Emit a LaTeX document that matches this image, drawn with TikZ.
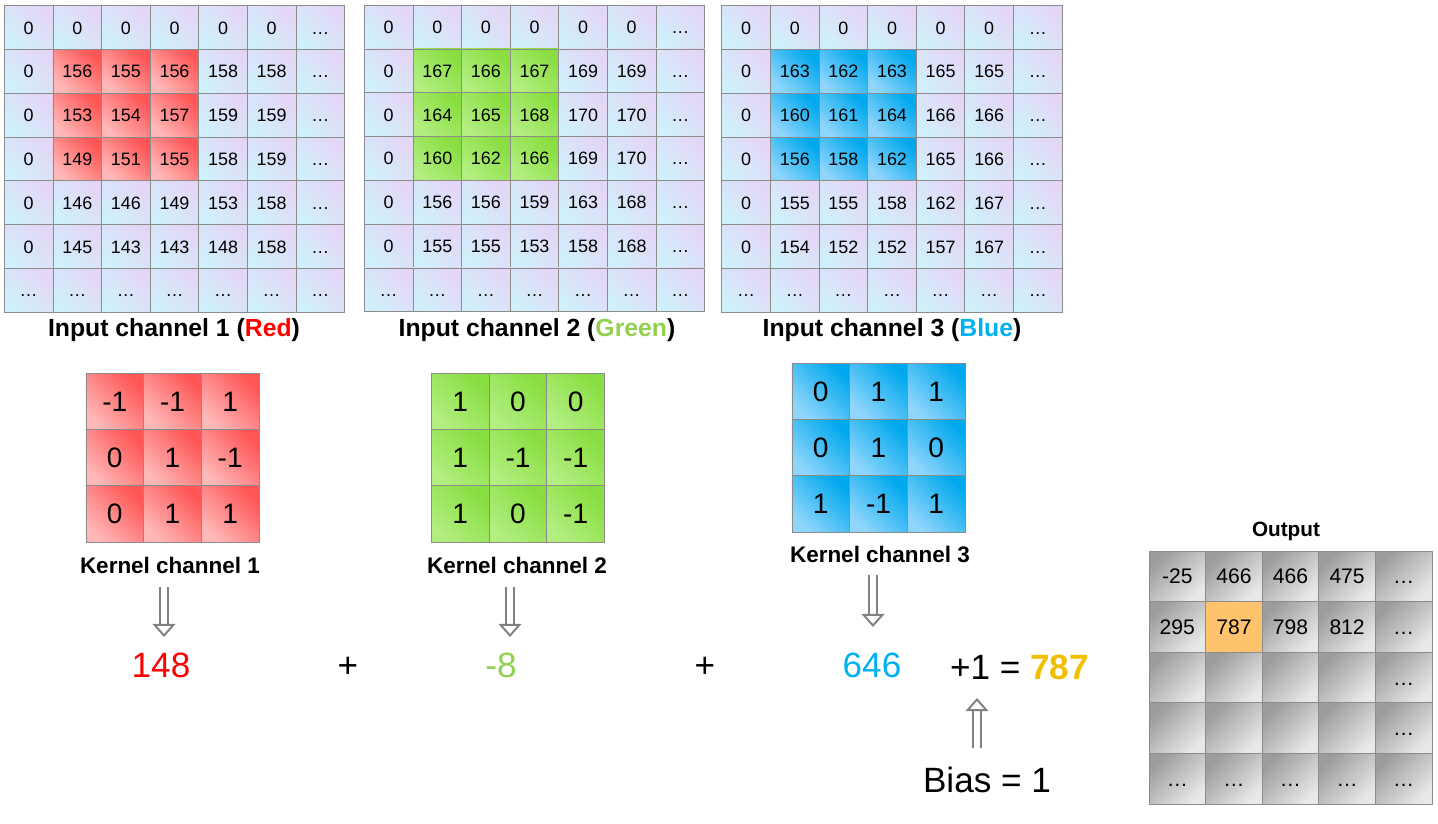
\documentclass[tikz,border=0pt]{standalone}
\usepackage{fontspec}
\setmainfont{Liberation Sans}
\usetikzlibrary{matrix,calc,arrows.meta}

\definecolor{celltop}{HTML}{E4D6F6}
\definecolor{cellbot}{HTML}{D0F0FB}
\definecolor{gridline}{HTML}{8C8C8C}
\definecolor{reddark}{HTML}{FF5555}
\definecolor{redlight}{HTML}{FFB8B8}
\definecolor{grndark}{HTML}{88DE40}
\definecolor{grnlight}{HTML}{B2EE80}
\definecolor{bludark}{HTML}{00A8EE}
\definecolor{blulight}{HTML}{90D6FC}
\definecolor{graydark}{HTML}{9C9C9C}
\definecolor{graylight}{HTML}{E8E8E8}
\definecolor{hitcol}{HTML}{FFC36E}
\definecolor{redtxt}{HTML}{FF0000}
\definecolor{grntxt}{HTML}{92D050}
\definecolor{blutxt}{HTML}{00B0F0}
\definecolor{goldtxt}{HTML}{F0C000}
\definecolor{arrowgray}{HTML}{808080}

\tikzset{
  grid/.style={matrix of nodes, nodes in empty cells, inner sep=0pt,
    column sep=-0.5pt, row sep=-0.5pt},
  cellbase/.style={draw=gridline, line width=0.5pt, inner sep=0pt, anchor=center, text depth=0pt},
  incell/.style={cellbase, minimum width=48.6*0.02cm, minimum height=43.8*0.02cm,
    text height=7.4pt, top color=celltop, bottom color=cellbot, shading angle=-45,
    font=\fontsize{10.2pt}{12pt}\selectfont},
  rcell/.style={top color=reddark, bottom color=redlight, shading angle=-45},
  gcell/.style={top color=grndark, bottom color=grnlight, shading angle=-45},
  bcell/.style={top color=bludark, bottom color=blulight, shading angle=-45},
  kcell/.style={cellbase, minimum width=57.7*0.02cm, minimum height=56.3*0.02cm,
    text height=11.5pt, font=\fontsize{16pt}{18pt}\selectfont},
  ocell/.style={cellbase, minimum width=56.6*0.02cm, minimum height=50.6*0.02cm,
    text height=8.6pt, top color=graydark, bottom color=graylight, shading angle=45,
    font=\fontsize{12pt}{14pt}\selectfont},
  hit/.style={fill=hitcol, top color=hitcol, bottom color=hitcol},
  inlabel/.style={anchor=base, inner sep=0pt, font=\fontsize{14.1pt}{16pt}\selectfont\bfseries},
  klabel/.style={anchor=base, inner sep=0pt, font=\fontsize{12.8pt}{15pt}\selectfont\bfseries},
  big/.style={anchor=base, inner sep=0pt, font=\fontsize{20pt}{24pt}\selectfont},
  hollow/.style={draw=arrowgray, line width=1.1pt, double=white, double distance=3.6pt,
    -{Triangle[open, length=7.5pt, width=13pt]}}
}

\begin{document}
\begin{tikzpicture}[x=0.02cm, y=-0.02cm] % 1 unidad = 1 pixel
  \useasboundingbox (0,0) rectangle (1438,824);
  % Canales de entrada
  \matrix (in1) [grid, nodes={incell}] at (174.5,159) {
    0 & 0 & 0 & 0 & 0 & 0 & … \\
    0 & |[rcell]|156 & |[rcell]|155 & |[rcell]|156 & 158 & 158 & … \\
    0 & |[rcell]|153 & |[rcell]|154 & |[rcell]|157 & 159 & 159 & … \\
    0 & |[rcell]|149 & |[rcell]|151 & |[rcell]|155 & 158 & 159 & … \\
    0 & 146 & 146 & 149 & 153 & 158 & … \\
    0 & 145 & 143 & 143 & 148 & 158 & … \\
    … & … & … & … & … & … & … \\
  };
  \matrix (in2) [grid, nodes={incell}] at (534.5,158.5) {
    0 & 0 & 0 & 0 & 0 & 0 & … \\
    0 & |[gcell]|167 & |[gcell]|166 & |[gcell]|167 & 169 & 169 & … \\
    0 & |[gcell]|164 & |[gcell]|165 & |[gcell]|168 & 170 & 170 & … \\
    0 & |[gcell]|160 & |[gcell]|162 & |[gcell]|166 & 169 & 170 & … \\
    0 & 156 & 156 & 159 & 163 & 168 & … \\
    0 & 155 & 155 & 153 & 158 & 168 & … \\
    … & … & … & … & … & … & … \\
  };
  \matrix (in3) [grid, nodes={incell}] at (892,159) {
    0 & 0 & 0 & 0 & 0 & 0 & … \\
    0 & |[bcell]|163 & |[bcell]|162 & |[bcell]|163 & 165 & 165 & … \\
    0 & |[bcell]|160 & |[bcell]|161 & |[bcell]|164 & 166 & 166 & … \\
    0 & |[bcell]|156 & |[bcell]|158 & |[bcell]|162 & 165 & 166 & … \\
    0 & 155 & 155 & 158 & 162 & 167 & … \\
    0 & 154 & 152 & 152 & 157 & 167 & … \\
    … & … & … & … & … & … & … \\
  };
  \node[inlabel] (lab1) at (174,337) {Input channel 1 (\textcolor{redtxt}{Red})};
  \node[inlabel] (lab2) at (537,337) {Input channel 2 (\textcolor{grntxt}{Green})};
  \node[inlabel] (lab3) at (892,337) {Input channel 3 (\textcolor{blutxt}{Blue})};

  % Kernels
  \matrix (k1) [grid, nodes={kcell, rcell}] at (172.5,457.5) {
    -1 & -1 & 1 \\
    0 & 1 & -1 \\
    0 & 1 & 1 \\
  };
  \matrix (k2) [grid, nodes={kcell, gcell}] at (518,457.5) {
    1 & 0 & 0 \\
    1 & -1 & -1 \\
    1 & 0 & -1 \\
  };
  \matrix (k3) [grid, nodes={kcell, bcell}] at (878.5,447.5) {
    0 & 1 & 1 \\
    0 & 1 & 0 \\
    1 & -1 & 1 \\
  };
  \node[klabel] (kl1) at (170,573) {Kernel channel 1};
  \node[klabel] (kl2) at (517,573) {Kernel channel 2};
  \node[klabel] (kl3) at (880,562) {Kernel channel 3};

  % Resultados por canal
  \node[big, text=redtxt] (r1) at (161,677) {148};
  \node[big] (p1) at (348,677) {+};
  \node[big, text=grntxt] (r2) at (501,677) {-8};
  \node[big] (p2) at (705,677) {+};
  \node[big, text=blutxt] (r3) at (872,677) {646};
  \node[big] (sum) at (1019.5,679) {+1 = \textbf{\textcolor{goldtxt}{787}}};
  \node[big] (bias) at (987,792) {Bias = 1};

  \draw[hollow] ($(kl1.base)+(-6,14)$) -- ($(r1.base)+(3,-40)$);
  \draw[hollow] ($(kl2.base)+(-7,14)$) -- ($(r2.base)+(9,-40)$);
  \draw[hollow] ($(kl3.base)+(-7,13)$) -- ($(r3.base)+(1,-50)$);
  \draw[hollow] ($(bias.base)+(-10,-44)$) -- ($(sum.base)+(-42.5,19)$);

  % Salida
  \node[klabel, font=\fontsize{11.8pt}{14pt}\selectfont\bfseries] (outlab) at (1286,536) {Output};
  \matrix (out) [grid, nodes={ocell}] at (1290.5,677.5) {
    -25 & 466 & 466 & 475 & … \\
    295 & |[hit]|787 & 798 & 812 & … \\
     & & & & … \\
     & & & & … \\
    … & … & … & … & … \\
  };
\end{tikzpicture}
\end{document}
